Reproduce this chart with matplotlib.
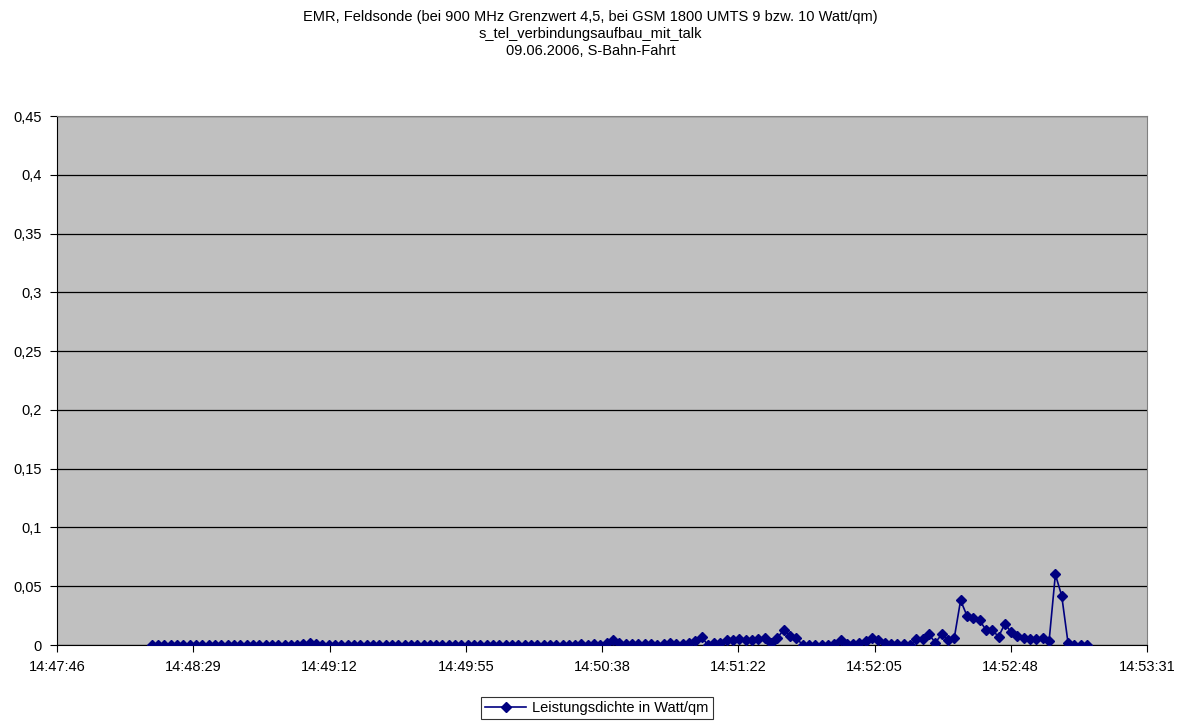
import matplotlib
matplotlib.use("Agg")
import matplotlib.pyplot as plt
from matplotlib.ticker import FuncFormatter, MultipleLocator, FixedLocator

plt.rcParams['font.family'] = ['Liberation Sans', 'DejaVu Sans']

title_lines = ["EMR, Feldsonde (bei 900 MHz Grenzwert 4,5, bei GSM 1800 UMTS 9 bzw. 10 Watt/qm)",
               "s_tel_verbindungsaufbau_mit_talk",
               "09.06.2006, S-Bahn-Fahrt"]
series_name = "Leistungsdichte in Watt/qm"

# measurement start 14:48:16, one sample every 2 s
start_sec = 14 * 3600 + 48 * 60 + 16
step_sec = 2
axis_min = 14 * 3600 + 47 * 60 + 46
axis_max = 14 * 3600 + 53 * 60 + 31
n_xticks = 9

values = [
    0, 0, 0, 0, 0, 0, 0, 0, 0, 0,
    0, 0, 0, 0, 0, 0, 0, 0, 0, 0,
    0, 0, 0, 0, 0.001, 0.002, 0.001, 0, 0, 0,
    0, 0, 0, 0, 0, 0, 0, 0, 0, 0,
    0, 0, 0, 0, 0, 0, 0, 0, 0, 0,
    0, 0, 0, 0, 0, 0, 0, 0, 0, 0,
    0, 0, 0, 0, 0, 0, 0, 0, 0.001, 0,
    0.001, 0, 0.002, 0.004, 0.002, 0.001, 0.001, 0.001, 0.001, 0.001,
    0, 0.001, 0.002, 0.001, 0.001, 0.002, 0.003, 0.007, 0, 0.002,
    0.002, 0.004, 0.004, 0.005, 0.004, 0.004, 0.005, 0.006, 0.002, 0.006,
    0.013, 0.008, 0.006, 0, 0, 0, 0, 0, 0.001, 0.004,
    0.001, 0.001, 0.002, 0.003, 0.006, 0.004, 0.002, 0.001, 0.001, 0.001,
    0, 0.005, 0.005, 0.009, 0.002, 0.009, 0.004, 0.006, 0.038, 0.025,
    0.023, 0.021, 0.013, 0.013, 0.007, 0.018, 0.011, 0.008, 0.006, 0.005,
    0.005, 0.006, 0.003, 0.060, 0.042, 0.002, 0, 0, 0,
]
times = [start_sec + step_sec * i for i in range(len(values))]


def fmt_time(x, pos=None):
    s = int(round(x))
    return "%d:%02d:%02d" % (s // 3600, (s % 3600) // 60, s % 60)


def fmt_val(y, pos=None):
    return ("%g" % round(y, 4)).replace(".", ",")


fig = plt.figure(figsize=(11.81, 7.21), dpi=100)
ax = fig.add_axes([0.0483, 0.1054, 0.9229, 0.7337])
ax.set_facecolor("#C0C0C0")

ax.plot(times, values, color="#000080", lw=1.2, marker="D", markersize=5.5,
        label=series_name, zorder=3)

ax.set_xlim(axis_min, axis_max)
ax.set_ylim(0, 0.45)
xticks = [axis_min + k * (axis_max - axis_min) / (n_xticks - 1) for k in range(n_xticks)]
ax.xaxis.set_major_locator(FixedLocator(xticks))
ax.xaxis.set_major_formatter(FuncFormatter(fmt_time))
ax.yaxis.set_major_locator(MultipleLocator(0.05))
ax.yaxis.set_major_formatter(FuncFormatter(fmt_val))
ax.grid(axis="y", color="black", lw=0.9)
ax.set_axisbelow(True)
ax.tick_params(labelsize=10.5, length=5, direction="out", color="black", pad=6)

for side in ["top", "right"]:
    ax.spines[side].set_color("#808080")
for side in ["left", "bottom"]:
    ax.spines[side].set_color("black")

fig.text(0.5, 0.986, "\n".join(title_lines), ha="center", va="top",
         fontsize=10.5, linespacing=1.28)

leg = fig.legend(loc="center", bbox_to_anchor=(597 / 1181, 1 - 708 / 721),
                 fontsize=10.5, frameon=True, fancybox=False, handlelength=2.8,
                 borderpad=0.3, borderaxespad=0, handletextpad=0.4)
leg.get_frame().set_edgecolor("black")
leg.get_frame().set_linewidth(0.8)

fig.savefig("out.png", dpi=100)
